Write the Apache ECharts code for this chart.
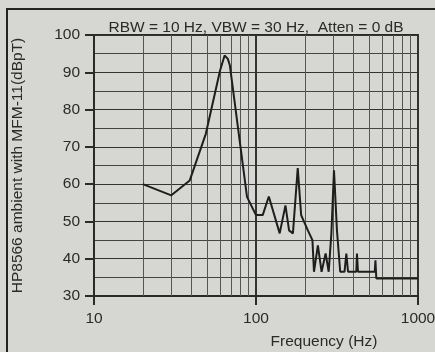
<!DOCTYPE html>
<html><head><meta charset="utf-8">
<script src="https://cdn.jsdelivr.net/npm/echarts@6/dist/echarts.min.js"></script>
<style>html,body{margin:0;padding:0;background:#d6d6d3;}#c{width:435px;height:352px;}</style>
</head><body><div id="c"></div>
<script>
var freqHz = [20, 30, 39, 49, 60, 64, 67, 69, 88, 100, 110, 120, 140, 152, 160, 169, 181, 190, 209, 223, 228, 241, 254, 269, 281, 292, 303, 316, 331, 352, 361, 370, 416, 420, 426, 541, 546, 553, 1000];
var levelDb = [60, 57, 61, 73.5, 90.5, 94.5, 93.6, 91.8, 56.6, 51.7, 51.7, 56.7, 46.8, 54.3, 47.6, 46.8, 64.3, 51.7, 47.6, 45, 36.5, 43.6, 36.5, 41.4, 36.5, 46.8, 63.7, 47.6, 36.5, 36.5, 41.4, 36.5, 36.5, 41.4, 36.5, 36.5, 39.6, 34.7, 34.7];
var minorFreqGrid = [20, 30, 40, 50, 60, 70, 80, 90, 200, 300, 400, 500, 600, 700, 800, 900];
var titleText = 'RBW = 10 Hz, VBW = 30 Hz,  Atten = 0 dB';
var xName = 'Frequency (Hz)';
var yName = 'HP8566 ambient with MFM-11(dBpT)';

var font = 'Liberation Sans, Arial, sans-serif';
var fs = 15.5;
var ink = '#2a2a2a';
var chart = echarts.init(document.getElementById('c'), null, {renderer: 'canvas'});
var pts = freqHz.map(function (f, i) { return [f, levelDb[i]]; });
chart.setOption({
  backgroundColor: '#d6d6d3',
  animation: false,
  title: {text: titleText, left: 251, top: 15, textAlign: 'center',
    textStyle: {fontFamily: font, fontSize: fs, fontWeight: 'normal', color: ink}},
  grid: {left: 94, right: 17, top: 35, bottom: 56, show: true, borderColor: ink, borderWidth: 2,
    backgroundColor: 'transparent', containLabel: false, outerBoundsMode: 'none'},
  xAxis: {type: 'log', logBase: 10, min: 10, max: 1000,
    name: xName, nameLocation: 'middle', nameGap: 38,
    nameTextStyle: {fontFamily: font, fontSize: fs, color: ink, padding: [0, 0, 0, 136]},
    axisLine: {lineStyle: {color: ink, width: 2}},
    axisTick: {show: true, length: 9, lineStyle: {color: ink, width: 2}},
    axisLabel: {fontFamily: font, fontSize: fs, color: ink, margin: 15,
      formatter: function (v) { return String(Math.round(v)); }},
    splitLine: {show: true, lineStyle: {color: '#333', width: 2}}
  },
  yAxis: {type: 'value', min: 30, max: 100, interval: 10,
    name: yName, nameLocation: 'middle', nameGap: 68,
    nameTextStyle: {fontFamily: font, fontSize: fs, color: ink},
    axisLine: {show: true, lineStyle: {color: ink, width: 2}},
    axisTick: {show: true, length: 9, lineStyle: {color: ink, width: 2}},
    axisLabel: {fontFamily: font, fontSize: fs, color: ink, margin: 14},
    splitLine: {show: true, lineStyle: {color: '#333', width: 1}},
    minorTick: {show: false, splitNumber: 2},
    minorSplitLine: {show: true, lineStyle: {color: '#444', width: 1}}
  },
  series: [{
    type: 'line', data: pts, showSymbol: false, symbol: 'none',
    lineStyle: {color: '#1e1e1e', width: 2}, z: 5,
    markLine: {silent: true, symbol: 'none', label: {show: false},
      lineStyle: {color: '#555', width: 1, type: 'solid'},
      data: minorFreqGrid.map(function (f) { return {xAxis: f}; }), z: 1}
  }],
  graphic: [{type: 'rect', shape: {x: 7, y: 9, width: 450, height: 380},
    style: {fill: 'none', stroke: '#222', lineWidth: 2}, silent: true}]
});
</script></body></html>
